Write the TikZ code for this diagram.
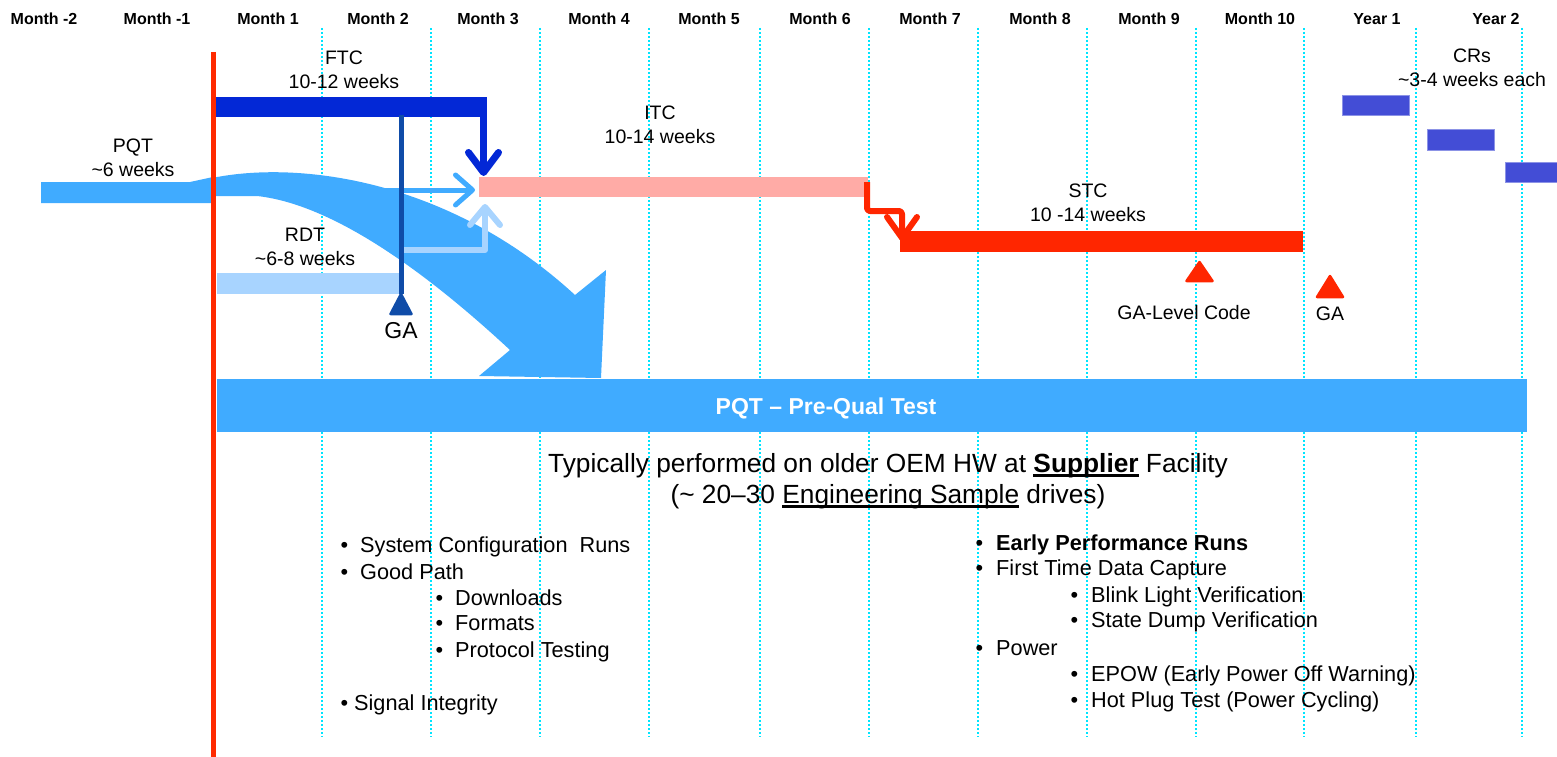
\documentclass[tikz,border=0pt]{standalone}
\usepackage{fontspec}
\setmainfont{Liberation Sans}
\usetikzlibrary{arrows.meta}
\newcommand\myuline[1]{\setbox0\hbox{#1}\rlap{\rule[-4.5pt]{\wd0}{2.6pt}}\box0\relax}
\definecolor{redline}{HTML}{FF2A00}
\definecolor{dotcyan}{HTML}{00E5FF}
\definecolor{ftcblue}{HTML}{0328D6}
\definecolor{ganavy}{HTML}{0F4CA8}
\definecolor{pqtblue}{HTML}{40ABFF}
\definecolor{rdtblue}{HTML}{A8D4FF}
\definecolor{itcpink}{HTML}{FFABA6}
\definecolor{crblue}{HTML}{434DD6}
\definecolor{crrim}{HTML}{8C93E6}
\definecolor{stcred}{HTML}{FF2600}
\tikzset{
  lbl/.style={font=\fontsize{19.5}{24}\selectfont, align=center, inner sep=0pt},
  month/.style={font=\bfseries\fontsize{16}{19}\selectfont, anchor=base, inner sep=0pt},
  item/.style={font=\fontsize{21.7}{25}\selectfont, anchor=base west, inner sep=0pt},
  bar/.style={anchor=north west, inner sep=0pt, outer sep=0pt},
  gridline/.style={dotcyan, line width=2pt, dash pattern=on 2pt off 2pt},
  chev/.style={-{Straight Barb[length=#1, width=30pt, round]}, line join=round},
  chev/.default=16pt,
  marker/.style={line width=2.5pt, line join=round},
  typ/.style={font=\fontsize{26.3}{31}\selectfont, anchor=base, inner sep=0pt},
}
\begin{document}
\begin{tikzpicture}[x=1pt, y=-1pt]
\useasboundingbox (0,0) rectangle (1557,757);
% grid lines
\foreach \gx in {322,431,540,649,760,869,978,1087,1196,1304,1416,1522}
  \draw[gridline] (\gx,28) -- (\gx,737);
% month labels
\foreach \mx/\mt in {44/Month -2,157/Month -1,268/Month 1,378/Month 2,488/Month 3,599/Month 4,709/Month 5,820/Month 6,930/Month 7,1040/Month 8,1149/Month 9,1260/Month 10,1377/Year 1,1496/Year 2}
  \node[month] at (\mx,24.5) {\mt};
% PQT bottom bar
\node[bar, fill=pqtblue, minimum width=1310pt, minimum height=53pt] (pqtbar) at (217,379) {};
\node[font=\bfseries\fontsize{23}{27}\selectfont, text=white, anchor=base, inner sep=0pt] (pqttxt) at (826,414) {PQT -- Pre-Qual Test};
% big curved arrow
\fill[pqtblue] (212,178) .. controls (300,160) and (450,180) .. (575,295) -- (606,270) -- (601,378) -- (479,376) -- (510,350) .. controls (440,285) and (340,205) .. (257,196) -- (212,196) -- cycle;
% PQT left bar
\fill[pqtblue] (41,182) -- (190,182) -- (213,177) -- (213,203) -- (41,203) -- cycle;
% RDT bar
\node[bar, fill=rdtblue, minimum width=185pt, minimum height=21pt] (rdt) at (217,273) {};
% ITC bar
\node[bar, fill=itcpink, minimum width=389pt, minimum height=20pt] (itc) at (479,177) {};
% STC bar
\node[bar, fill=stcred, minimum width=403pt, minimum height=21pt] (stc) at (900,231) {};
% FTC bar
\node[bar, fill=ftcblue, minimum width=271pt, minimum height=20pt] (ftc) at (216,97) {};
% CR bars
\node[bar, fill=crblue, draw=crrim, line width=1pt, minimum width=67pt, minimum height=20pt] (cr1) at (1342,96) {};
\node[bar, fill=crblue, draw=crrim, line width=1pt, minimum width=67pt, minimum height=20pt] (cr2) at (1427,130) {};
\node[bar, fill=crblue, draw=crrim, line width=1pt, minimum width=60pt, minimum height=20pt] (cr3) at (1505,162) {};
% connectors
\coordinate (rdtstart) at (403,250);
\coordinate (rdttip) at (485,204);
\draw[rdtblue, line width=6pt, chev=18pt] (rdtstart) -- (rdttip |- rdtstart) -- (rdttip);
\coordinate (pqtstart) at (372,190);
\coordinate (pqttip) at (475,190);
\draw[pqtblue, line width=5pt, chev=17pt] (pqtstart) -- (pqttip);
\coordinate (ftcstart) at (483.5,110);
\coordinate (ftctip) at (483.5,176);
\draw[ftcblue, line width=7pt, chev=20pt] (ftcstart) -- (ftctip);
\coordinate (stcstart) at (867,182);
\coordinate (stctip) at (902,241);
\draw[stcred, line width=6pt, chev=21pt, rounded corners=3pt] (stcstart) -- (867,211) -- (902,211) -- (stctip);
% GA navy marker
\coordinate (gatop) at (401,115);
\coordinate (gatip) at (401,294);
\draw[ganavy, line width=5pt] (gatop) -- (gatip);
\filldraw[ganavy, marker] (401,294) -- (390.5,314) -- (411.5,314) -- cycle;
\node[font=\fontsize{23}{27}\selectfont, inner sep=0pt] (galbl) at (401,331) {GA};
% red markers
\filldraw[stcred, marker] (1199.5,262) -- (1186.5,281) -- (1212.5,281) -- cycle;
\node[lbl] (galvl) at (1184,313) {GA-Level Code};
\filldraw[stcred, marker] (1330,276) -- (1317,297) -- (1343,297) -- cycle;
\node[lbl] (ga2) at (1330,314) {GA};
% red vertical line
\draw[redline, line width=5pt] (213.5,52) -- (213.5,757);
% labels
\node[lbl] (lftc) at (344,70) {FTC\\10-12 weeks};
\node[lbl] (lpqt) at (133,158) {PQT\\\textasciitilde6 weeks};
\node[lbl] (litc) at (660,125) {ITC\\10-14 weeks};
\node[lbl] (lrdt) at (305,247) {RDT\\\textasciitilde6-8 weeks};
\node[lbl] (lstc) at (1088,202.5) {STC\\10 -14 weeks};
\node[lbl] (lcr) at (1472,68) {CRs\\\textasciitilde3-4 weeks each};
% typical text
\node[typ] (typ1) at (888,472) {Typically performed on older OEM HW at \myuline{\textbf{Supplier}} Facility};
\node[typ] (typ2) at (888,503) {(\textasciitilde{} 20--30 \myuline{Engineering Sample} drives)};
% left list
\node[item] (l1) at (360,552) {\llap{\textbullet\hspace{12pt}}System Configuration\ \ Runs};
\node[item] (l2) at (360,579) {\llap{\textbullet\hspace{12pt}}Good Path};
\node[item] (l3) at (455,605) {\llap{\textbullet\hspace{12pt}}Downloads};
\node[item] (l4) at (455,630) {\llap{\textbullet\hspace{12pt}}Formats};
\node[item] (l5) at (455,657) {\llap{\textbullet\hspace{12pt}}Protocol Testing};
\node[item] (l6) at (354,710) {\llap{\textbullet\hspace{6pt}}Signal Integrity};
% right list
\node[item] (r1) at (996,550) {\llap{\textbullet\hspace{13pt}}\textbf{Early Performance Runs}};
\node[item] (r2) at (996,575) {\llap{\textbullet\hspace{13pt}}First Time Data Capture};
\node[item] (r3) at (1091,602) {\llap{\textbullet\hspace{13pt}}Blink Light Verification};
\node[item] (r4) at (1091,627) {\llap{\textbullet\hspace{13pt}}State Dump Verification};
\node[item] (r5) at (996,655) {\llap{\textbullet\hspace{13pt}}Power};
\node[item] (r6) at (1091,681) {\llap{\textbullet\hspace{13pt}}EPOW (Early Power Off Warning)};
\node[item] (r7) at (1091,707) {\llap{\textbullet\hspace{13pt}}Hot Plug Test (Power Cycling)};
\end{tikzpicture}
\end{document}
